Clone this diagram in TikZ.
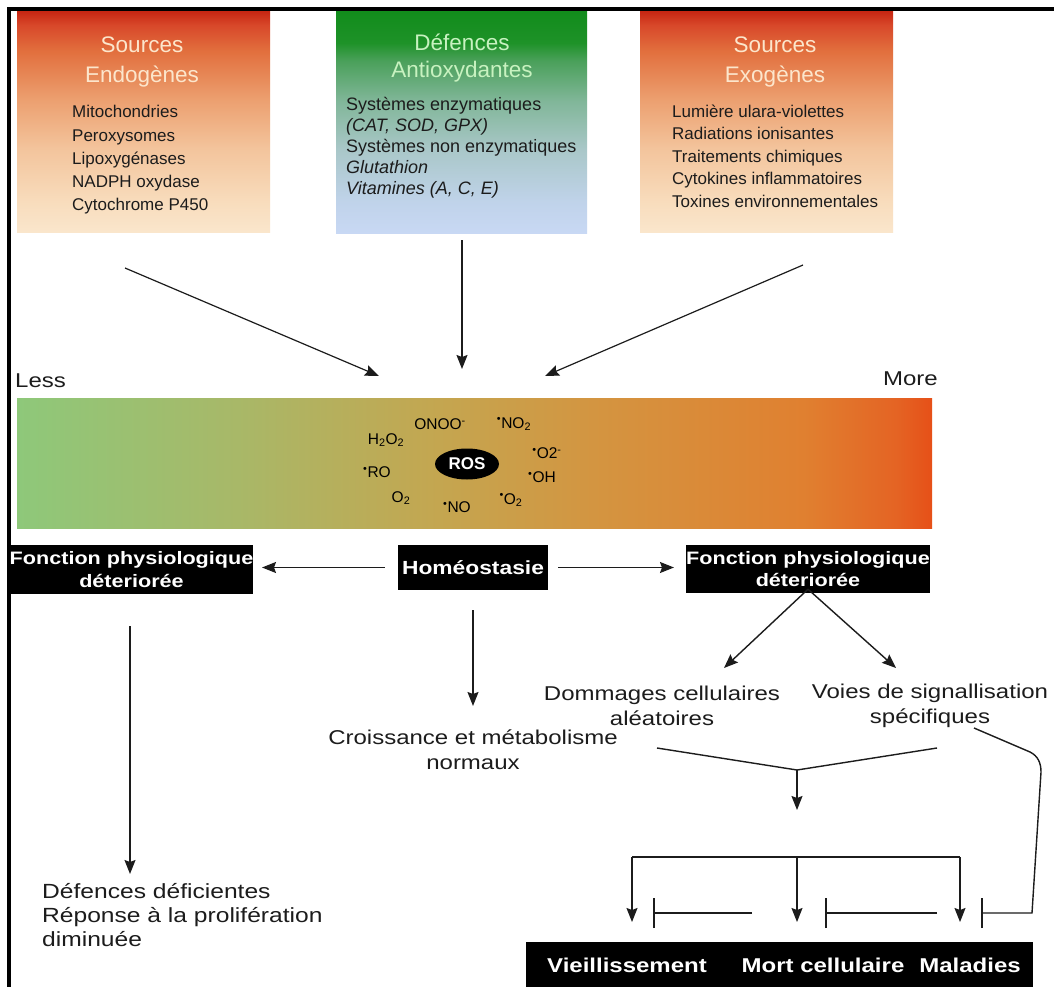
\documentclass[tikz,border=0pt]{standalone}
\usepackage{fontspec}
\setmainfont{Liberation Sans}
\newfontfamily\wfont[FakeStretch=1.2]{Liberation Sans}
\usetikzlibrary{arrows.meta,shapes.geometric}
\definecolor{ink}{HTML}{1C1C1C}
\definecolor{peachtitle}{HTML}{FCE6CC}
\definecolor{greentitle}{HTML}{C8F2C0}
% box gradients (positions 25bp = bottom, 75bp = top)
\pgfdeclareverticalshading{endo}{100bp}{%
 color(0bp)=(rgb,255:red,250;green,230;blue,204);
 color(25bp)=(rgb,255:red,250;green,230;blue,204);
 color(32bp)=(rgb,255:red,248;green,220;blue,188);
 color(44bp)=(rgb,255:red,243;green,196;blue,156);
 color(55bp)=(rgb,255:red,236;green,160;blue,112);
 color(66bp)=(rgb,255:red,226;green,112;blue,62);
 color(72bp)=(rgb,255:red,216;green,72;blue,42);
 color(75bp)=(rgb,255:red,200;green,40;blue,20);
 color(100bp)=(rgb,255:red,200;green,40;blue,20)}
\pgfdeclareverticalshading{anti}{100bp}{%
 color(0bp)=(rgb,255:red,200;green,216;blue,244);
 color(25bp)=(rgb,255:red,200;green,216;blue,244);
 color(32bp)=(rgb,255:red,192;green,211;blue,234);
 color(44bp)=(rgb,255:red,169;green,199;blue,200);
 color(55bp)=(rgb,255:red,128;green,182;blue,152);
 color(64bp)=(rgb,255:red,74;green,160;blue,90);
 color(68bp)=(rgb,255:red,30;green,146;blue,40);
 color(75bp)=(rgb,255:red,18;green,140;blue,28);
 color(100bp)=(rgb,255:red,18;green,140;blue,28)}
\pgfdeclarehorizontalshading{rosbar}{100bp}{%
 color(0bp)=(rgb,255:red,142;green,200;blue,122);
 color(25bp)=(rgb,255:red,142;green,200;blue,122);
 color(37bp)=(rgb,255:red,168;green,184;blue,104);
 color(48bp)=(rgb,255:red,196;green,166;blue,80);
 color(57bp)=(rgb,255:red,212;green,148;blue,64);
 color(68bp)=(rgb,255:red,224;green,128;blue,48);
 color(73bp)=(rgb,255:red,228;green,100;blue,36);
 color(75bp)=(rgb,255:red,230;green,80;blue,24);
 color(100bp)=(rgb,255:red,230;green,80;blue,24)}
\tikzset{
 ttl/.style={align=center, inner sep=0pt, font=\fontsize{22.5}{30}\selectfont},
 body/.style={align=left, inner sep=0pt, anchor=west, text=ink},
 blk/.style={fill=black, text=white, align=center, inner sep=0pt,
   font=\wfont\bfseries\fontsize{18}{22.5}\selectfont},
 low/.style={align=center, inner sep=0pt, text=ink, font=\wfont\fontsize{20}{25}\selectfont},
 spc/.style={inner sep=0pt, text=black, font=\fontsize{15.5}{15.5}\selectfont},
 conn/.style={draw=ink, line width=1.4pt, -{Stealth[length=14pt,width=11pt,inset=2pt]}},
 plain/.style={draw=ink, line width=1.4pt},
 inh/.style={draw=ink, line width=1.4pt, -{Bar[width=30pt,line width=1.6pt]}},
}
\begin{document}
\begin{tikzpicture}[x=1pt,y=-1pt]
\useasboundingbox (0,0) rectangle (1054,987);
\fill[white] (0,0) rectangle (1054,987);
% frame
\draw[line width=3.2pt, draw=black] (9,988) -- (9,9) -- (1054,9);

% top boxes
\shade[shading=endo] (17,12) rectangle (270,232);
\shade[shading=anti] (336,12) rectangle (587,233);
\shade[shading=endo] (640,12) rectangle (893,232);
\node (endo) at (143,122) [minimum width=253pt, minimum height=220pt, inner sep=0pt] {};
\node (anti) at (461.5,122.5) [minimum width=251pt, minimum height=221pt, inner sep=0pt] {};
\node (exo) at (766.5,122) [minimum width=253pt, minimum height=220pt, inner sep=0pt] {};

\node[ttl, text=peachtitle] (endoT) at (142,62) {Sources\\Endogènes};
\node[body, font=\fontsize{17}{23.3}\selectfont] (endoB) at (72,160)
 {Mitochondries\\Peroxysomes\\Lipoxygénases\\NADPH oxydase\\Cytochrome P450};

\node[ttl, text=greentitle, font=\fontsize{22.5}{27}\selectfont] (antiT) at (462,58.5) {Défences\\Antioxydantes};
\node[body, font=\fontsize{18}{21}\selectfont] (antiB) at (346,148)
 {Systèmes enzymatiques\\\textit{(CAT, SOD, GPX)}\\Systèmes non enzymatiques\\\textit{Glutathion}\\\textit{Vitamines (A, C, E)}};

\node[ttl, text=peachtitle] (exoT) at (775,62) {Sources\\Exogènes};
\node[body, font=\fontsize{17}{22.5}\selectfont] (exoB) at (672,156)
 {Lumière ulara-violettes\\Radiations ionisantes\\Traitements chimiques\\Cytokines inflammatoires\\Toxines environnementales};

% arrows to the bar
\coordinate (a1s) at (125,268); \coordinate (a1e) at (379,376);
\coordinate (a2s) at (462,240); \coordinate (a2e) at (462,369);
\coordinate (a3s) at (803,265); \coordinate (a3e) at (545,376);
\draw[conn, line width=1.2pt] (a1s) -- (a1e);
\draw[conn, line width=1.2pt] (a2s) -- (a2e);
\draw[conn, line width=1.2pt] (a3s) -- (a3e);

% Less / More
\node[inner sep=0pt, anchor=west, text=ink, font=\wfont\fontsize{20}{20}\selectfont] (less) at (15,381) {Less};
\node[inner sep=0pt, anchor=east, text=ink, font=\wfont\fontsize{20}{20}\selectfont] (more) at (938,379) {More};

% gradient bar
\shade[shading=rosbar] (17,398) rectangle (932,528);
\node (bar) at (474.5,463) [minimum width=915pt, minimum height=130pt, inner sep=0pt] {};

% ROS and species
\node[ellipse, fill=black, text=white, minimum width=64pt, minimum height=31pt, inner sep=0pt,
  font=\bfseries\fontsize{17}{17}\selectfont] (ros) at (467,464) {ROS};
\node[spc] (onoo) at (440,424) {ONOO\textsuperscript{-}};
\node[spc] (no2) at (514,424) {\textsuperscript{\textbullet}NO\textsubscript{2}};
\node[spc] (h2o2) at (386,440) {H\textsubscript{2}O\textsubscript{2}};
\node[spc] (o2m) at (547,453) {\textsuperscript{\textbullet}O2\textsuperscript{-}};
\node[spc] (ro) at (377,472) {\textsuperscript{\textbullet}RO};
\node[spc] (oh) at (542,477) {\textsuperscript{\textbullet}OH};
\node[spc] (o2) at (401,498) {O\textsubscript{2}};
\node[spc] (no) at (457,507) {\textsuperscript{\textbullet}NO};
\node[spc] (o2r) at (511,500) {\textsuperscript{\textbullet}O\textsubscript{2}};

% black boxes
\node[blk, minimum width=243pt, minimum height=49pt] (lbox) at (131.5,569.5) {Fonction physiologique\\déteriorée};
\node[blk, minimum width=150pt, minimum height=45pt, font=\wfont\bfseries\fontsize{19}{22}\selectfont] (hom) at (473,567.5) {Homéostasie};
\node[blk, minimum width=242pt, minimum height=48pt] (rbox) at (808,569) {Fonction physiologique\\déteriorée};

\draw[conn] (hom.west) ++(-13,0) coordinate (hl) -- (262,567.5) coordinate (hlt);
\draw[conn] (hom.east) ++(10,0) coordinate (hr) -- (674,567.5) coordinate (hrt);
\draw[conn] ([yshift=4pt]rbox.south) -- (724,668) coordinate (rdl);
\draw[conn] ([yshift=4pt]rbox.south) -- (896,668) coordinate (rdr);

% homeostasie down
\coordinate (hd1) at (473,610); \coordinate (hd2) at (473,706);
\draw[conn] (hd1) -- (hd2);
\node[low] (crois) at (473,750) {Croissance et métabolisme\\normaux};

% left down
\coordinate (ld1) at (130,626); \coordinate (ld2) at (130,874);
\draw[conn] (ld1) -- (ld2);
\node[low, align=left, anchor=west, font=\wfont\fontsize{20.5}{24}\selectfont] (defd) at (42,915)
 {Défences déficientes\\Réponse à la prolifération\\diminuée};

% right branch texts
\node[low] (dom) at (662,706) {Dommages cellulaires\\aléatoires};
\node[low] (voies) at (930,706) {Voies de signallisation\\spécifiques};

% converging lines
\coordinate (cL) at (657,748); \coordinate (cR) at (937,748);
\coordinate (cM) at (797,770); \coordinate (cT) at (797,810);
\draw[plain] (cL) -- (cM) -- (cR);
\draw[conn] (cM) -- (cT);

% bracket
\coordinate (b1) at (632,857); \coordinate (b2) at (797,857); \coordinate (b3) at (960,857);
\coordinate (t1) at (632,922); \coordinate (t2) at (797,922); \coordinate (t3) at (960,922);
\draw[plain] (b1) -- (b3);
\draw[conn] (b1) -- (t1);
\draw[conn] (b2) -- (t2);
\draw[conn] (b3) -- (t3);

% inhibition lines
\coordinate (i1s) at (752,913); \coordinate (i1e) at (653,913);
\coordinate (i2s) at (937,913); \coordinate (i2e) at (825,913);
\draw[inh] (i1s) -- (i1e);
\draw[inh] (i2s) -- (i2e);
\coordinate (c3s) at (974,728); \coordinate (c3a) at (1030,752);
\coordinate (c3b) at (1041,772); \coordinate (c3c) at (1032,913);
\coordinate (i3e) at (981,913);
\draw[inh] (c3s) -- (c3a) .. controls (1038,756) and (1041,763) .. (c3b) -- (c3c) -- (i3e);

% bottom box
\node[fill=black, minimum width=507pt, minimum height=46pt, inner sep=0pt] (bot) at (779.5,965) {};
\node[inner sep=0pt, text=white, font=\wfont\bfseries\fontsize{20}{20}\selectfont] (vie) at (627,965) {Vieillissement};
\node[inner sep=0pt, text=white, font=\wfont\bfseries\fontsize{20}{20}\selectfont] (mort) at (823,965) {Mort cellulaire};
\node[inner sep=0pt, text=white, font=\wfont\bfseries\fontsize{20}{20}\selectfont] (mal) at (970,965) {Maladies};
\end{tikzpicture}
\end{document}
